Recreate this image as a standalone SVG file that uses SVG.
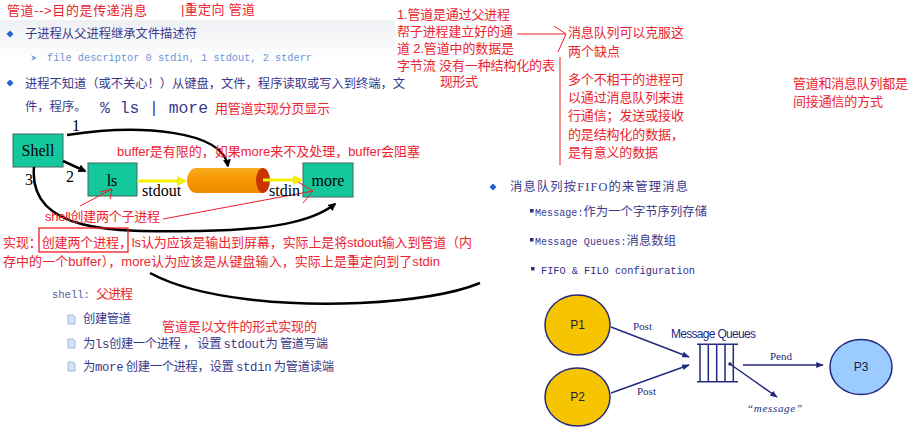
<svg xmlns="http://www.w3.org/2000/svg" xmlns:xlink="http://www.w3.org/1999/xlink" width="922" height="435" viewBox="0 0 922 435">
<style>
.red{fill:#ec2330;font-family:"Liberation Sans","Noto Sans CJK SC",sans-serif;font-size:13px}
.blue{fill:#3a3a8c;font-family:"Noto Sans CJK SC",sans-serif;font-size:12.3px}
.mono{font-family:"Liberation Mono","Noto Sans CJK SC",monospace}
.ser{font-family:"Liberation Serif",serif;font-size:16px;fill:#000}
.box{fill:#14c79c;stroke:#3d6b60;stroke-width:1}
.blk{fill:none;stroke:#000;stroke-width:2.5}
.rl{fill:none;stroke:#ee1c25;stroke-width:1}
.nv{fill:none;stroke:#232a7e;stroke-width:1.5}
.pl{font-family:"Liberation Sans",sans-serif;font-size:12px;fill:#1d1d3d;text-anchor:middle}
.pst{font-family:"Liberation Serif",serif;font-size:11px;fill:#232a7e}
</style>
<defs>
<marker id="ab" viewBox="0 0 10 10" refX="8" refY="5" markerWidth="3.2" markerHeight="3.2" orient="auto"><path d="M0,0 L10,5 L0,10 Z" fill="#000"/></marker>
<marker id="ay" viewBox="0 0 10 10" refX="8" refY="5" markerWidth="3.5" markerHeight="3.5" orient="auto"><path d="M0,0 L10,5 L0,10 Z" fill="#f2f000"/></marker>
<marker id="an" viewBox="0 0 10 10" refX="9" refY="5" markerWidth="5" markerHeight="5" orient="auto"><path d="M0,1 L10,5 L0,9 Z" fill="#232a7e"/></marker>
<g id="doc"><path d="M0,0 H5 L7,2 V9 H0 Z" fill="#d6e2f5" stroke="#8fa9d9" stroke-width="0.8"/></g>
<linearGradient id="band" x1="0" y1="0" x2="0" y2="1"><stop offset="0" stop-color="#eef0f3"/><stop offset="1" stop-color="#ffffff"/></linearGradient>
<linearGradient id="pipeg" x1="0" y1="0" x2="0" y2="1"><stop offset="0" stop-color="#f9ad20"/><stop offset="0.5" stop-color="#f79600"/><stop offset="1" stop-color="#f08a00"/></linearGradient>
</defs>
<rect x="0" y="0" width="922" height="435" fill="#fff"/>
<rect x="0" y="20" width="395" height="40" fill="url(#band)"/>

<g id="texts-left">
<text class="red" x="7" y="15" font-size="13.5" textLength="140">管道--&gt;目的是传递消息</text>
<text class="red" x="181" y="14" font-size="13.5" textLength="74">|重定向 管道</text>
<polygon points="10,30.5 13.5,34 10,37.5 6.5,34" fill="#1f62d6"/>
<text class="blue" x="25" y="38" textLength="172">子进程从父进程继承文件描述符</text>
<polygon points="31,55 37,58 31,61 33,58" fill="#7a9ad6"/>
<text class="mono" x="47" y="61" font-size="10.3" fill="#6f93d6" textLength="265">file descriptor 0 stdin, 1 stdout, 2 stderr</text>
<polygon points="10,79.5 13.5,83 10,86.5 6.5,83" fill="#1f62d6"/>
<text class="blue" x="25" y="88" textLength="380">进程不知道（或不关心！）从键盘，文件，程序读取或写入到终端，文</text>
<text class="blue" x="25" y="111">件，程序。</text>
<text class="mono" x="100" y="113" font-size="16.4" fill="#3a3a8c" textLength="108">% ls | more</text>
<text class="red" x="215" y="113" textLength="115">用管道实现分页显示</text>
</g>

<g id="shell"><rect class="box" x="13" y="134" width="50" height="33"/><text class="ser" x="38" y="156" text-anchor="middle">Shell</text></g>
<g id="ls"><rect class="box" x="88" y="163" width="49" height="33"/><text class="ser" x="112" y="186" text-anchor="middle">ls</text></g>
<g id="more"><rect class="box" x="303" y="163" width="50" height="34"/><text class="ser" x="328" y="186" text-anchor="middle">more</text></g>
<g id="pipe">
<path d="M196,168 H263 V193 H196 A9,12.5 0 0 1 196,168 Z" fill="url(#pipeg)"/>
<ellipse cx="263" cy="180.5" rx="7" ry="12.5" fill="#c93400"/>
</g>

<g id="connectors">
<path class="blk" d="M67,135 C140,124 222,130 228,166" marker-end="url(#ab)"/>
<path class="blk" d="M63,161 L85,171" marker-end="url(#ab)"/>
<path class="blk" d="M34,167 C28,235 120,232 200,231 C270,230 312,222 335,204" marker-end="url(#ab)"/>
<path class="blk" d="M150,273 C200,300 290,306 360,303 C420,300 458,292 480,283"/>
<line x1="137" y1="181" x2="185" y2="181" stroke="#f2f000" stroke-width="3" marker-end="url(#ay)"/>
<line x1="263" y1="180" x2="301" y2="180" stroke="#f2f000" stroke-width="3" marker-end="url(#ay)"/>
<path class="rl" d="M80,206 L112,189 M100,192 L112,189 L110,199"/>
<path class="rl" d="M163,219 L313,191 M298,182 L313,191 L303,203"/>
<path class="rl" d="M517,34 H565 M554,26 L566,34 L558,52"/>
<line class="rl" x1="560" y1="57" x2="560" y2="165"/>
<line class="nv" x1="611" y1="327" x2="689" y2="357" marker-end="url(#an)"/>
<line class="nv" x1="611" y1="393" x2="689" y2="365" marker-end="url(#an)"/>
<line class="nv" x1="743" y1="365" x2="823" y2="365" marker-end="url(#an)"/>
<circle cx="730" cy="364" r="1.8" fill="#232a7e"/>
<line class="nv" x1="730" y1="364" x2="777" y2="397" marker-end="url(#an)"/>
</g>

<g id="labels-shell">
<text class="ser" x="72" y="131" font-size="15">1</text>
<text class="ser" x="66" y="182" font-size="15">2</text>
<text class="ser" x="25" y="185" font-size="15">3</text>
<text class="ser" x="142" y="196">stdout</text>
<text class="ser" x="269" y="196">stdin</text>
</g>

<g id="annotations-left">
<text class="red" x="117" y="156" font-size="12.5" textLength="303">buffer是有限的，如果more来不及处理，buffer会阻塞</text>
<text class="red" x="45" y="221" textLength="115">shell创建两个子进程</text>
<text class="red" x="3" y="247" textLength="469">实现：创建两个进程，ls认为应该是输出到屏幕，实际上是将stdout输入到管道（内</text>
<text class="red" x="3" y="266" textLength="437">存中的一个buffer），more认为应该是从键盘输入，实际上是重定向到了stdin</text>
<rect x="39" y="228" width="89" height="24" fill="none" stroke="#ee1c25" stroke-width="1.3"/>
<text class="mono" x="52" y="298" font-size="10.5" fill="#5a5aa0">shell:</text>
<text class="red" x="96" y="298" textLength="37">父进程</text>
<use xlink:href="#doc" x="68" y="315"/>
<use xlink:href="#doc" x="68" y="339"/>
<use xlink:href="#doc" x="68" y="362"/>
<text class="blue" x="83" y="323" font-size="12" fill="#4b4b9b" textLength="48">创建管道</text>
<text class="blue" x="83" y="348" font-size="12" fill="#4b4b9b" textLength="245">为<tspan class="mono">ls</tspan>创建一个进程 ， 设置 <tspan class="mono">stdout</tspan>为 管道写端</text>
<text class="blue" x="83" y="371" font-size="12" fill="#4b4b9b" textLength="251">为<tspan class="mono">more</tspan> 创建一个进程，设置 <tspan class="mono">stdin</tspan> 为管道读端</text>
<text class="red" x="162" y="331" textLength="155">管道是以文件的形式实现的</text>
</g>

<g id="annotations-right">
<text class="red" x="397" y="19" textLength="113">1.管道是通过父进程</text>
<text class="red" x="397" y="36" textLength="116">帮子进程建立好的通</text>
<text class="red" x="397" y="53" textLength="117">道 2.管道中的数据是</text>
<text class="red" x="397" y="70" textLength="158">字节流 没有一种结构化的表</text>
<text class="red" x="440" y="86" textLength="38">现形式</text>
<text class="red" x="568" y="37" textLength="116">消息队列可以克服这</text>
<text class="red" x="568" y="56">两个缺点</text>
<text class="red" x="568" y="84" textLength="116">多个不相干的进程可</text>
<text class="red" x="568" y="102" textLength="116">以通过消息队列来进</text>
<text class="red" x="568" y="120" textLength="116">行通信；发送或接收</text>
<text class="red" x="568" y="139" textLength="116">的是结构化的数据，</text>
<text class="red" x="568" y="157" textLength="90">是有意义的数据</text>
<text class="red" x="793" y="88" textLength="115">管道和消息队列都是</text>
<text class="red" x="793" y="106" textLength="90">间接通信的方式</text>
</g>

<g id="mq-text">
<polygon points="493,183.5 496.5,187 493,190.5 489.5,187" fill="#1f62d6"/>
<text class="blue" x="510" y="191" font-size="13.5" fill="#2f2f84" textLength="178">消息队列按<tspan font-family="Liberation Serif">FIFO</tspan>的来管理消息</text>
<rect x="530" y="209" width="3.5" height="3.5" fill="#2f2f84"/>
<text class="blue" x="535" y="216" font-size="12.5" fill="#2f2f84" textLength="172"><tspan class="mono" font-size="10">Message:</tspan>作为一个字节序列存储</text>
<rect x="530" y="238" width="3.5" height="3.5" fill="#2f2f84"/>
<text class="blue" x="535" y="245" font-size="12.5" fill="#2f2f84" textLength="141"><tspan class="mono" font-size="10">Message Queues:</tspan>消息数组</text>
<rect x="531" y="267" width="3.5" height="3.5" fill="#2f2f84"/>
<text class="mono" x="541" y="274" font-size="10.3" fill="#2f2f84" textLength="154">FIFO &amp; FILO configuration</text>
</g>

<g id="p1"><ellipse cx="577.5" cy="325" rx="32.5" ry="30" fill="#f7c400" stroke="#232a7e" stroke-width="1.5"/><text class="pl" x="577.5" y="329">P1</text></g>
<g id="p2"><ellipse cx="577.5" cy="397" rx="32.5" ry="29" fill="#f7c400" stroke="#232a7e" stroke-width="1.5"/><text class="pl" x="577.5" y="401">P2</text></g>
<g id="p3"><ellipse cx="861" cy="367" rx="31" ry="27.5" fill="#9ccbff" stroke="#232a7e" stroke-width="1.5"/><text class="pl" x="861" y="371">P3</text></g>
<g id="queue">
<path class="nv" d="M697,344.3 H738 M697,381.7 H738 M700,344.3 V381.7 M708.3,344.3 V381.7 M716.7,344.3 V381.7 M725,344.3 V381.7 M733.3,344.3 V381.7"/>
<text x="671" y="338" font-family="Liberation Sans,sans-serif" font-size="12" fill="#232a7e" textLength="85">Message Queues</text>
</g>
<g id="mq-labels">
<text class="pst" x="633" y="330">Post</text>
<text class="pst" x="637" y="395">Post</text>
<text class="pst" x="770" y="360">Pend</text>
<text class="pst" x="747" y="412" font-style="italic" textLength="55">“message”</text>
</g>
</svg>
